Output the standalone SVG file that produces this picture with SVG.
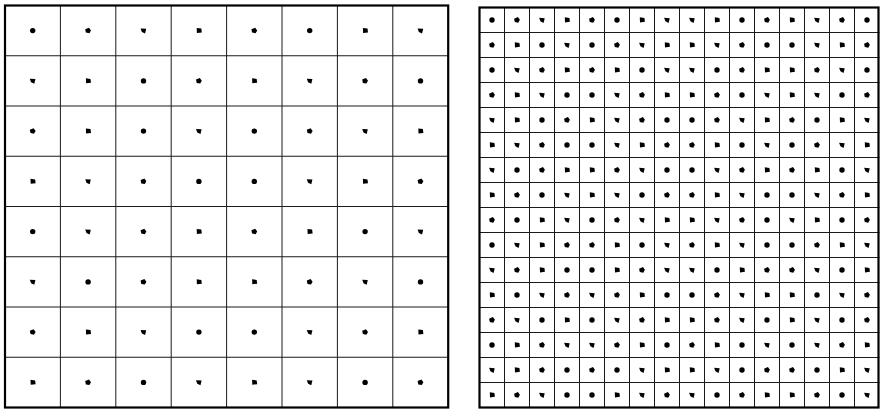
<svg xmlns="http://www.w3.org/2000/svg" width="880" height="410" viewBox="0 0 880 410">
<style>
.bg{fill:#fff}
.inner{fill:none;stroke:#1a1a1a;stroke-width:1}
.outer{fill:none;stroke:#000;stroke-width:2.2}
.dots{fill:#000}
</style>
<defs>
<circle id="a" r="2.7"/>
<path id="b" d="M-2.9,-1.3 L0.9,-2.9 L2.9,-0.2 L1.3,2.7 L-2.2,2 Z"/>
<path id="c" d="M-2.9,-2.2 L2.7,-1.8 L1.6,2.9 L-1.6,1.3 Z"/>
<path id="d" d="M-2.2,-2.7 L2.4,-2 L2.9,1.8 L-2,2.4 Z"/>
</defs>
<rect class="bg" x="0" y="0" width="880" height="410"/>
<g id="left-grid">
<path class="inner" d="M60.4,5.5V407.5M115.8,5.5V407.5M171.2,5.5V407.5M226.6,5.5V407.5M282,5.5V407.5M337.4,5.5V407.5M392.8,5.5V407.5M5,55.75H448.2M5,106H448.2M5,156.25H448.2M5,206.5H448.2M5,256.75H448.2M5,307H448.2M5,357.25H448.2"/>
<rect class="outer" x="5" y="5.5" width="443.2" height="402"/>
<g class="dots">
<g transform="translate(0,30.6)"><use href="#a" x="32.7"/><use href="#b" x="88.1"/><use href="#c" x="143.5"/><use href="#d" x="198.9"/><use href="#b" x="254.3"/><use href="#a" x="309.7"/><use href="#d" x="365.1"/><use href="#c" x="420.5"/></g>
<g transform="translate(0,80.9)"><use href="#c" x="32.7"/><use href="#d" x="88.1"/><use href="#a" x="143.5"/><use href="#b" x="198.9"/><use href="#d" x="254.3"/><use href="#c" x="309.7"/><use href="#b" x="365.1"/><use href="#a" x="420.5"/></g>
<g transform="translate(0,131.1)"><use href="#b" x="32.7"/><use href="#d" x="88.1"/><use href="#a" x="143.5"/><use href="#c" x="198.9"/><use href="#a" x="254.3"/><use href="#b" x="309.7"/><use href="#c" x="365.1"/><use href="#d" x="420.5"/></g>
<g transform="translate(0,181.4)"><use href="#d" x="32.7"/><use href="#c" x="88.1"/><use href="#b" x="143.5"/><use href="#a" x="198.9"/><use href="#a" x="254.3"/><use href="#c" x="309.7"/><use href="#d" x="365.1"/><use href="#b" x="420.5"/></g>
<g transform="translate(0,231.6)"><use href="#a" x="32.7"/><use href="#c" x="88.1"/><use href="#b" x="143.5"/><use href="#d" x="198.9"/><use href="#b" x="254.3"/><use href="#d" x="309.7"/><use href="#a" x="365.1"/><use href="#c" x="420.5"/></g>
<g transform="translate(0,281.9)"><use href="#c" x="32.7"/><use href="#a" x="88.1"/><use href="#b" x="143.5"/><use href="#d" x="198.9"/><use href="#d" x="254.3"/><use href="#b" x="309.7"/><use href="#c" x="365.1"/><use href="#a" x="420.5"/></g>
<g transform="translate(0,332.1)"><use href="#b" x="32.7"/><use href="#d" x="88.1"/><use href="#c" x="143.5"/><use href="#a" x="198.9"/><use href="#a" x="254.3"/><use href="#c" x="309.7"/><use href="#b" x="365.1"/><use href="#d" x="420.5"/></g>
<g transform="translate(0,382.4)"><use href="#d" x="32.7"/><use href="#b" x="88.1"/><use href="#a" x="143.5"/><use href="#c" x="198.9"/><use href="#d" x="254.3"/><use href="#c" x="309.7"/><use href="#a" x="365.1"/><use href="#b" x="420.5"/></g>
</g>
</g>
<g id="right-grid" transform="translate(0.5,0.5)">
<path class="inner" d="M504,7V407M529,7V407M554,7V407M579,7V407M604,7V407M629,7V407M654,7V407M679,7V407M704,7V407M729,7V407M754,7V407M779,7V407M804,7V407M829,7V407M854,7V407M479,32H879M479,57H879M479,82H879M479,107H879M479,132H879M479,157H879M479,182H879M479,207H879M479,232H879M479,257H879M479,282H879M479,307H879M479,332H879M479,357H879M479,382H879"/>
<rect class="outer" x="479" y="7" width="399" height="400"/>
<g class="dots">
<g transform="translate(0,19.5)"><use href="#a" x="491.5"/><use href="#b" x="516.5"/><use href="#c" x="541.5"/><use href="#d" x="566.5"/><use href="#b" x="591.5"/><use href="#a" x="616.5"/><use href="#d" x="641.5"/><use href="#c" x="666.5"/><use href="#c" x="691.5"/><use href="#d" x="716.5"/><use href="#a" x="741.5"/><use href="#b" x="766.5"/><use href="#d" x="791.5"/><use href="#c" x="816.5"/><use href="#b" x="841.5"/><use href="#a" x="866.5"/></g>
<g transform="translate(0,44.5)"><use href="#b" x="491.5"/><use href="#d" x="516.5"/><use href="#a" x="541.5"/><use href="#c" x="566.5"/><use href="#a" x="591.5"/><use href="#b" x="616.5"/><use href="#c" x="641.5"/><use href="#d" x="666.5"/><use href="#d" x="691.5"/><use href="#c" x="716.5"/><use href="#b" x="741.5"/><use href="#a" x="766.5"/><use href="#a" x="791.5"/><use href="#c" x="816.5"/><use href="#d" x="841.5"/><use href="#b" x="866.5"/></g>
<g transform="translate(0,69.5)"><use href="#a" x="491.5"/><use href="#c" x="516.5"/><use href="#b" x="541.5"/><use href="#d" x="566.5"/><use href="#b" x="591.5"/><use href="#d" x="616.5"/><use href="#a" x="641.5"/><use href="#c" x="666.5"/><use href="#c" x="691.5"/><use href="#a" x="716.5"/><use href="#b" x="741.5"/><use href="#d" x="766.5"/><use href="#d" x="791.5"/><use href="#b" x="816.5"/><use href="#c" x="841.5"/><use href="#a" x="866.5"/></g>
<g transform="translate(0,94.5)"><use href="#b" x="491.5"/><use href="#d" x="516.5"/><use href="#c" x="541.5"/><use href="#a" x="566.5"/><use href="#a" x="591.5"/><use href="#c" x="616.5"/><use href="#b" x="641.5"/><use href="#d" x="666.5"/><use href="#d" x="691.5"/><use href="#b" x="716.5"/><use href="#a" x="741.5"/><use href="#c" x="766.5"/><use href="#d" x="791.5"/><use href="#c" x="816.5"/><use href="#a" x="841.5"/><use href="#b" x="866.5"/></g>
<g transform="translate(0,119.5)"><use href="#c" x="491.5"/><use href="#d" x="516.5"/><use href="#a" x="541.5"/><use href="#b" x="566.5"/><use href="#d" x="591.5"/><use href="#c" x="616.5"/><use href="#b" x="641.5"/><use href="#a" x="666.5"/><use href="#a" x="691.5"/><use href="#b" x="716.5"/><use href="#c" x="741.5"/><use href="#d" x="766.5"/><use href="#b" x="791.5"/><use href="#a" x="816.5"/><use href="#d" x="841.5"/><use href="#c" x="866.5"/></g>
<g transform="translate(0,144.5)"><use href="#d" x="491.5"/><use href="#c" x="516.5"/><use href="#b" x="541.5"/><use href="#a" x="566.5"/><use href="#a" x="591.5"/><use href="#c" x="616.5"/><use href="#d" x="641.5"/><use href="#b" x="666.5"/><use href="#b" x="691.5"/><use href="#d" x="716.5"/><use href="#a" x="741.5"/><use href="#c" x="766.5"/><use href="#a" x="791.5"/><use href="#b" x="816.5"/><use href="#c" x="841.5"/><use href="#d" x="866.5"/></g>
<g transform="translate(0,169.5)"><use href="#c" x="491.5"/><use href="#a" x="516.5"/><use href="#b" x="541.5"/><use href="#d" x="566.5"/><use href="#d" x="591.5"/><use href="#b" x="616.5"/><use href="#c" x="641.5"/><use href="#a" x="666.5"/><use href="#a" x="691.5"/><use href="#c" x="716.5"/><use href="#b" x="741.5"/><use href="#d" x="766.5"/><use href="#b" x="791.5"/><use href="#d" x="816.5"/><use href="#a" x="841.5"/><use href="#c" x="866.5"/></g>
<g transform="translate(0,194.5)"><use href="#d" x="491.5"/><use href="#b" x="516.5"/><use href="#a" x="541.5"/><use href="#c" x="566.5"/><use href="#d" x="591.5"/><use href="#c" x="616.5"/><use href="#a" x="641.5"/><use href="#b" x="666.5"/><use href="#b" x="691.5"/><use href="#d" x="716.5"/><use href="#c" x="741.5"/><use href="#a" x="766.5"/><use href="#a" x="791.5"/><use href="#c" x="816.5"/><use href="#b" x="841.5"/><use href="#d" x="866.5"/></g>
<g transform="translate(0,219.5)"><use href="#b" x="491.5"/><use href="#a" x="516.5"/><use href="#d" x="541.5"/><use href="#c" x="566.5"/><use href="#a" x="591.5"/><use href="#b" x="616.5"/><use href="#c" x="641.5"/><use href="#d" x="666.5"/><use href="#d" x="691.5"/><use href="#c" x="716.5"/><use href="#b" x="741.5"/><use href="#a" x="766.5"/><use href="#c" x="791.5"/><use href="#d" x="816.5"/><use href="#a" x="841.5"/><use href="#b" x="866.5"/></g>
<g transform="translate(0,244.5)"><use href="#a" x="491.5"/><use href="#c" x="516.5"/><use href="#d" x="541.5"/><use href="#b" x="566.5"/><use href="#b" x="591.5"/><use href="#d" x="616.5"/><use href="#a" x="641.5"/><use href="#c" x="666.5"/><use href="#b" x="691.5"/><use href="#d" x="716.5"/><use href="#c" x="741.5"/><use href="#a" x="766.5"/><use href="#a" x="791.5"/><use href="#b" x="816.5"/><use href="#d" x="841.5"/><use href="#c" x="866.5"/></g>
<g transform="translate(0,269.5)"><use href="#c" x="491.5"/><use href="#b" x="516.5"/><use href="#d" x="541.5"/><use href="#a" x="566.5"/><use href="#a" x="591.5"/><use href="#d" x="616.5"/><use href="#b" x="641.5"/><use href="#c" x="666.5"/><use href="#c" x="691.5"/><use href="#a" x="716.5"/><use href="#d" x="741.5"/><use href="#b" x="766.5"/><use href="#b" x="791.5"/><use href="#c" x="816.5"/><use href="#a" x="841.5"/><use href="#d" x="866.5"/></g>
<g transform="translate(0,294.5)"><use href="#d" x="491.5"/><use href="#a" x="516.5"/><use href="#c" x="541.5"/><use href="#b" x="566.5"/><use href="#c" x="591.5"/><use href="#b" x="616.5"/><use href="#d" x="641.5"/><use href="#a" x="666.5"/><use href="#a" x="691.5"/><use href="#b" x="716.5"/><use href="#c" x="741.5"/><use href="#d" x="766.5"/><use href="#d" x="791.5"/><use href="#a" x="816.5"/><use href="#c" x="841.5"/><use href="#b" x="866.5"/></g>
<g transform="translate(0,319.5)"><use href="#b" x="491.5"/><use href="#c" x="516.5"/><use href="#a" x="541.5"/><use href="#d" x="566.5"/><use href="#a" x="591.5"/><use href="#c" x="616.5"/><use href="#b" x="641.5"/><use href="#d" x="666.5"/><use href="#d" x="691.5"/><use href="#b" x="716.5"/><use href="#c" x="741.5"/><use href="#a" x="766.5"/><use href="#d" x="791.5"/><use href="#c" x="816.5"/><use href="#a" x="841.5"/><use href="#b" x="866.5"/></g>
<g transform="translate(0,344.5)"><use href="#a" x="491.5"/><use href="#d" x="516.5"/><use href="#b" x="541.5"/><use href="#c" x="566.5"/><use href="#c" x="591.5"/><use href="#b" x="616.5"/><use href="#d" x="641.5"/><use href="#a" x="666.5"/><use href="#b" x="691.5"/><use href="#d" x="716.5"/><use href="#a" x="741.5"/><use href="#c" x="766.5"/><use href="#a" x="791.5"/><use href="#c" x="816.5"/><use href="#b" x="841.5"/><use href="#d" x="866.5"/></g>
<g transform="translate(0,369.5)"><use href="#c" x="491.5"/><use href="#d" x="516.5"/><use href="#b" x="541.5"/><use href="#a" x="566.5"/><use href="#b" x="591.5"/><use href="#a" x="616.5"/><use href="#c" x="641.5"/><use href="#d" x="666.5"/><use href="#d" x="691.5"/><use href="#c" x="716.5"/><use href="#a" x="741.5"/><use href="#b" x="766.5"/><use href="#b" x="791.5"/><use href="#a" x="816.5"/><use href="#d" x="841.5"/><use href="#c" x="866.5"/></g>
<g transform="translate(0,394.5)"><use href="#d" x="491.5"/><use href="#b" x="516.5"/><use href="#c" x="541.5"/><use href="#a" x="566.5"/><use href="#a" x="591.5"/><use href="#d" x="616.5"/><use href="#c" x="641.5"/><use href="#b" x="666.5"/><use href="#c" x="691.5"/><use href="#a" x="716.5"/><use href="#b" x="741.5"/><use href="#d" x="766.5"/><use href="#d" x="791.5"/><use href="#b" x="816.5"/><use href="#a" x="841.5"/><use href="#c" x="866.5"/></g>
</g>
</g>
</svg>
